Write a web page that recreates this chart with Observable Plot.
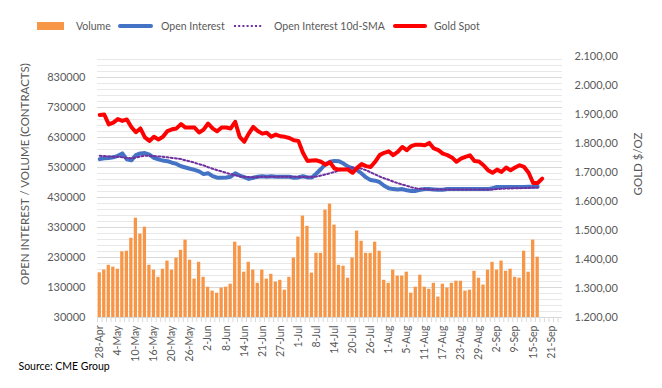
<!DOCTYPE html>
<html>
<head>
<meta charset="utf-8">
<script src="https://cdn.jsdelivr.net/npm/d3@7"></script>
<script src="https://cdn.jsdelivr.net/npm/@observablehq/plot@0.6"></script>
<style>
  body { margin: 0; background: #fff; }
  #wrap { position: relative; width: 662px; height: 388px; font-family: Lato, "Open Sans", sans-serif; }
  #wrap svg { position: absolute; left: 0; top: 0; }
</style>
</head>
<body>
<div id="wrap"></div>
<script>
// Trading-day categories (28-Apr .. 23-Sep)
const dates = [
  "28-Apr","29-Apr",
  "2-May","3-May","4-May","5-May","6-May","9-May","10-May","11-May","12-May","13-May","16-May","17-May","18-May","19-May","20-May","23-May","24-May","25-May","26-May","27-May","31-May",
  "1-Jun","2-Jun","3-Jun","6-Jun","7-Jun","8-Jun","9-Jun","10-Jun","13-Jun","14-Jun","15-Jun","16-Jun","17-Jun","21-Jun","22-Jun","23-Jun","24-Jun","27-Jun","28-Jun","29-Jun","30-Jun",
  "1-Jul","5-Jul","6-Jul","7-Jul","8-Jul","11-Jul","12-Jul","13-Jul","14-Jul","15-Jul","18-Jul","19-Jul","20-Jul","21-Jul","22-Jul","25-Jul","26-Jul","27-Jul","28-Jul","29-Jul",
  "1-Aug","2-Aug","3-Aug","4-Aug","5-Aug","8-Aug","9-Aug","10-Aug","11-Aug","12-Aug","15-Aug","16-Aug","17-Aug","18-Aug","19-Aug","22-Aug","23-Aug","24-Aug","25-Aug","26-Aug","29-Aug","30-Aug","31-Aug",
  "1-Sep","2-Sep","6-Sep","7-Sep","8-Sep","9-Sep","12-Sep","13-Sep","14-Sep","15-Sep","16-Sep","19-Sep","20-Sep","21-Sep","22-Sep","23-Sep"
];
// labelled categories on the x axis
const xTickLabels = ["28-Apr","4-May","10-May","16-May","20-May","26-May","2-Jun","8-Jun","14-Jun","21-Jun","27-Jun","1-Jul","8-Jul","14-Jul","20-Jul","26-Jul","1-Aug","5-Aug","11-Aug","17-Aug","23-Aug","29-Aug","2-Sep","9-Sep","15-Sep","21-Sep"];

// Volume (contracts)
const volume = [
  179000,188000,204000,198000,191000,249000,251000,294000,361000,308000,
  331000,204000,188000,164000,191000,218000,188000,228000,254000,288000,
  221000,158000,214000,164000,131000,118000,111000,128000,131000,141000,
  281000,268000,181000,214000,188000,144000,188000,158000,174000,148000,
  154000,121000,164000,228000,298000,368000,334000,178000,244000,244000,
  388000,408000,338000,204000,201000,161000,228000,318000,284000,244000,
  244000,281000,251000,154000,144000,188000,168000,168000,181000,111000,
  131000,171000,131000,124000,144000,98000,141000,128000,144000,151000,
  151000,118000,121000,184000,161000,138000,188000,214000,188000,218000,
  184000,191000,164000,161000,251000,181000,288000,231000
];
// Open interest (contracts)
const openInterest = [
  558000,561000,562000,564000,569000,577000,557000,554000,571000,577000,
  578000,573000,562000,557000,553000,551000,546000,542000,534000,530000,
  526000,522000,517000,508000,511000,501000,496000,496000,497000,499000,
  511000,503000,498000,492000,496000,499000,501000,499000,501000,499000,
  499000,499000,499000,496000,497000,501000,497000,497000,510000,525000,
  541000,549000,552000,551000,543000,533000,527000,521000,510000,497000,
  488000,486000,481000,469000,461000,458000,457000,458000,454000,452000,
  452000,456000,458000,458000,457000,456000,456000,458000,458000,458000,
  458000,458000,458000,458000,458000,458000,458000,461000,465000,465000,
  465000,465000,465000,465000,465000,466000,466000,466000
];
// Open interest 10-day SMA (contracts)
const oiSMA = [
  569000,568000,567000,566000,566000,564000,562000,561000,563000,567000,
  569000,569000,568000,567000,566000,564000,562000,560000,558000,554000,
  550000,546000,541000,537000,531000,526000,521000,517000,512000,508000,
  504000,501000,499000,498000,497000,498000,499000,499000,499000,499000,
  499000,499000,499000,499000,499000,498000,498000,498000,500000,503000,
  507000,511000,515000,520000,524000,528000,530000,529000,526000,521000,
  514000,507000,500000,494000,489000,483000,478000,473000,469000,464000,
  461000,459000,458000,457000,457000,457000,457000,457000,457000,457000,
  457000,457000,457000,457000,457000,457000,457000,457000,458000,459000,
  460000,460000,461000,461000,462000,462000,463000,463000
];
// Gold spot ($/oz)
const goldSpot = [
  1898,1900,1866,1872,1884,1878,1883,1857,1839,1852,
  1821,1809,1823,1814,1823,1843,1849,1852,1867,1855,
  1855,1855,1838,1848,1869,1852,1842,1855,1855,1852,
  1875,1823,1806,1834,1857,1843,1834,1837,1823,1831,
  1825,1823,1819,1811,1809,1768,1740,1741,1742,1737,
  1727,1735,1714,1710,1710,1710,1699,1716,1729,1722,
  1719,1737,1760,1768,1773,1760,1771,1788,1777,1791,
  1796,1796,1794,1802,1783,1777,1765,1760,1752,1737,
  1748,1754,1759,1740,1738,1725,1708,1699,1710,1702,
  1717,1708,1717,1725,1719,1699,1664,1664,1679
];

const leftTicks = [30000,130000,230000,330000,430000,530000,630000,730000,830000];
const minorTicks = d3.range(50000, 900000, 20000).filter(v => (v - 30000) % 100000 !== 0);
const goldTicks = [1200,1300,1400,1500,1600,1700,1800,1900,2000,2100];
const seriesNames = ["Volume","Open Interest","Open Interest 10d-SMA","Gold Spot"];
const leftTitle = "OPEN INTEREST / VOLUME (CONTRACTS)";
const rightTitle = "GOLD $/OZ";
const sourceText = "Source: CME Group";

const Y0 = 30000, Y1 = 900000, G0 = 1200, G1 = 2100;
const goldToY = g => Y0 + (g - G0) * (Y1 - Y0) / (G1 - G0);
const yToGold = v => G0 + (v - Y0) * (G1 - G0) / (Y1 - Y0);
const deFmt = d3.formatLocale({decimal: ",", thousands: ".", grouping: [3], currency: ["", ""]}).format(",.2f");

const volRows = volume.map((v, i) => ({date: dates[i], v}));
const oiRows = openInterest.map((v, i) => ({date: dates[i], v}));
const smaRows = oiSMA.map((v, i) => ({date: dates[i], v}));
const goldRows = goldSpot.map((g, i) => ({date: dates[i], g}));
const labelled = new Set(xTickLabels);

const COL = {vol: "#F79646", oi: "#4472C4", sma: "#7030A0", gold: "#FF0000", text: "#595959"};

const W = 662, H = 388, mL = 97, mR = 100, mT = 56, mB = 71;
const step = (W - mL - mR) / dates.length;

const chart = Plot.plot({
  width: W, height: H,
  marginTop: mT, marginBottom: mB, marginLeft: mL, marginRight: mR,
  style: {fontFamily: "Lato, 'Open Sans', sans-serif", fontSize: "11px", color: COL.text, background: "transparent", overflow: "visible"},
  x: {type: "band", domain: dates, paddingInner: 0.27, paddingOuter: 0.135, axis: null},
  y: {domain: [Y0, Y1], axis: null},
  marks: [
    Plot.ruleY(minorTicks, {stroke: "#e8e8e8", strokeWidth: 1}),
    Plot.ruleY(leftTicks, {stroke: "#d9d9d9", strokeWidth: 1}),
    Plot.barY(volRows, {x: "date", y1: () => Y0, y2: "v", fill: COL.vol}),
    Plot.line(oiRows, {x: "date", y: "v", stroke: COL.oi, strokeWidth: 4, strokeLinejoin: "round", strokeLinecap: "round"}),
    Plot.line(smaRows, {x: "date", y: "v", stroke: COL.sma, strokeWidth: 2, strokeDasharray: "2 2.2"}),
    Plot.line(goldRows, {x: "date", y: d => goldToY(d.g), stroke: COL.gold, strokeWidth: 4, strokeLinejoin: "round", strokeLinecap: "round"}),
    Plot.axisY({anchor: "left", ticks: leftTicks, tickFormat: d3.format("d"), tickSize: 0, tickPadding: 12, label: null, fill: COL.text}),
    Plot.axisY({anchor: "right", ticks: goldTicks.map(goldToY), tickFormat: v => deFmt(Math.round(yToGold(v))), tickSize: 0, tickPadding: 12, label: null, fill: COL.text}),
    Plot.axisX({ticks: dates, tickFormat: () => "", tickSize: 5, dx: -step / 2, stroke: "#d9d9d9", label: null}),
    Plot.axisX({ticks: dates, tickFormat: d => labelled.has(d) ? d : "", tickRotate: -90, tickSize: 0, tickPadding: 8, label: null, fill: COL.text, fontSize: 10.5}),
    Plot.text([leftTitle], {text: d => d, frameAnchor: "left", textAnchor: "middle", dx: -72, dy: -13, rotate: -90, fill: COL.text, fontSize: 11.5}),
    Plot.text([rightTitle], {text: d => d, frameAnchor: "right", textAnchor: "middle", dx: 76, dy: -23, rotate: -90, fill: COL.text, fontSize: 11.5}),
    Plot.text([sourceText], {text: d => d, frameAnchor: "bottom-left", dx: -79, dy: 52, textAnchor: "start", fill: "#000", fontSize: 10.5})
  ]
});
document.getElementById("wrap").appendChild(chart);

// Legend
const lg = d3.select("#wrap").append("svg").attr("width", W).attr("height", 45)
  .style("font-family", "Lato, 'Open Sans', sans-serif").style("font-size", "10.5px");
const ly = 26;
const legendItems = [
  {name: seriesNames[0], kind: "rect", x: 37, w: 27, tx: 76, color: COL.vol},
  {name: seriesNames[1], kind: "line", x: 120, w: 31, tx: 161, color: COL.oi},
  {name: seriesNames[2], kind: "dot", x: 234, w: 29, tx: 274, color: COL.sma},
  {name: seriesNames[3], kind: "line", x: 395, w: 30, tx: 434, color: COL.gold}
];
legendItems.forEach(it => {
  if (it.kind === "rect") {
    lg.append("rect").attr("x", it.x).attr("y", ly - 4).attr("width", it.w).attr("height", 8).attr("fill", it.color);
  } else {
    lg.append("line").attr("x1", it.x).attr("x2", it.x + it.w).attr("y1", ly).attr("y2", ly)
      .attr("stroke", it.color)
      .attr("stroke-width", it.kind === "dot" ? 2 : 4)
      .attr("stroke-linecap", it.kind === "dot" ? "butt" : "round")
      .attr("stroke-dasharray", it.kind === "dot" ? "2 2.2" : null);
  }
  lg.append("text").attr("x", it.tx).attr("y", ly).attr("dy", "0.35em").attr("fill", COL.text).text(it.name);
});
</script>
</body>
</html>
